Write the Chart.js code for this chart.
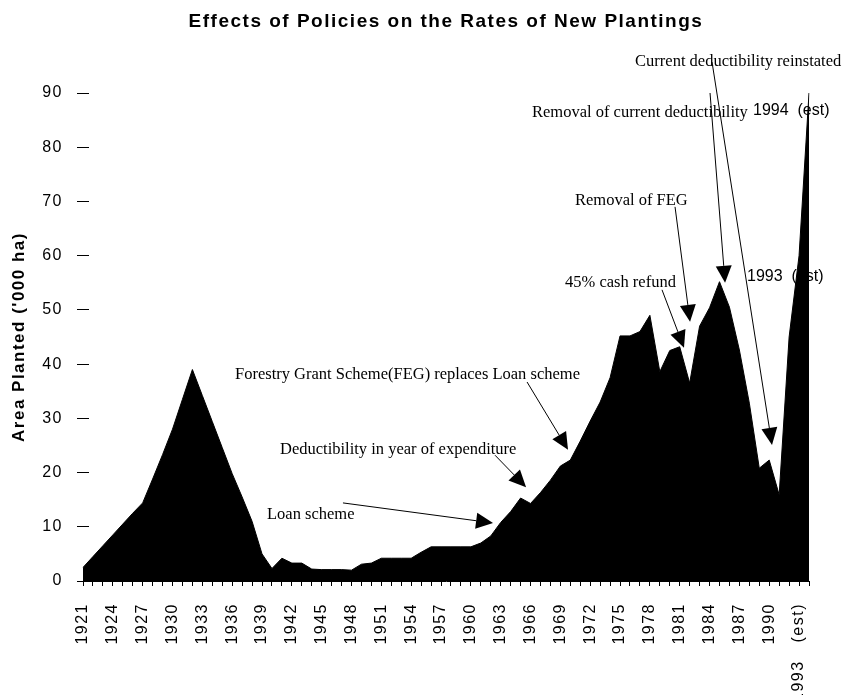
<!DOCTYPE html>
<html>
<head>
<meta charset="utf-8">
<title>Effects of Policies on the Rates of New Plantings</title>
<script src="https://cdn.jsdelivr.net/npm/chart.js@4.4.1/dist/chart.umd.min.js"></script>
<style>
  html, body { margin: 0; padding: 0; background: #fff; }
  canvas { display: block; }
</style>
</head>
<body>
<canvas id="plantings" width="846" height="695"></canvas>
<script>
var years = [
    '1921', '1922', '1923', '1924', '1925', '1926', '1927', '1928', '1929', '1930',
    '1931', '1932', '1933', '1934', '1935', '1936', '1937', '1938', '1939', '1940',
    '1941', '1942', '1943', '1944', '1945', '1946', '1947', '1948', '1949', '1950',
    '1951', '1952', '1953', '1954', '1955', '1956', '1957', '1958', '1959', '1960',
    '1961', '1962', '1963', '1964', '1965', '1966', '1967', '1968', '1969', '1970',
    '1971', '1972', '1973', '1974', '1975', '1976', '1977', '1978', '1979', '1980',
    '1981', '1982', '1983', '1984', '1985', '1986', '1987', '1988', '1989', '1990',
    '1991', '1992', '1993', '1994'
];

// area planted, thousand hectares
var areaPlanted = [
    2.5, 4.5, 6.5, 8.5, 10.5, 12.5, 14.4, 18.8, 23.3, 28,
    33.5, 39, 34.2, 29.4, 24.6, 19.8, 15.5, 11, 5, 2.3,
    4.2, 3.3, 3.3, 2.2, 2.1, 2.1, 2.1, 2.0, 3.1, 3.3,
    4.2, 4.2, 4.2, 4.2, 5.3, 6.3, 6.3, 6.3, 6.3, 6.3,
    7.0, 8.3, 10.8, 12.8, 15.3, 14.3, 16.3, 18.6, 21.2, 22.3,
    25.8, 29.5, 33, 37.5, 45.2, 45.2, 46, 49, 38.6, 42.5,
    43.2, 36.5, 47, 50.4, 55.2, 50.5, 42.6, 32.8, 20.8, 22.3,
    15.9, 45, 60, 90
];

// every third year gets a label
var tickLabels = [
    '1921', '1924', '1927', '1930', '1933', '1936', '1939', '1942', '1945',
    '1948', '1951', '1954', '1957', '1960', '1963', '1966', '1969', '1972',
    '1975', '1978', '1981', '1984', '1987', '1990', '1993   (est)'
];

var yTicks = [0, 10, 20, 30, 40, 50, 60, 70, 80, 90];

// estimate markers next to the last two points, [year, value] of the text baseline start
var estNotes = [
    { text: '1993  (est)', at: [1987.77, 55.4] },
    { text: '1994  (est)', at: [1988.37, 85.9] }
];

// policy changes: text baseline start, arrow tail and arrow tip, all as [year, value]
var policyNotes = [
    { text: 'Loan scheme', at: [1939.5, 11.4], from: [1947.14, 14.4], to: [1962.23, 10.7] },
    { text: 'Deductibility in year of expenditure', at: [1940.81, 23.4], from: [1962.43, 23.2], to: [1965.55, 17.3] },
    { text: 'Forestry Grant Scheme(FEG) replaces Loan scheme', at: [1936.28, 37.3], from: [1965.65, 36.7], to: [1969.77, 24.2] },
    { text: '45% cash refund', at: [1969.47, 54.2], from: [1979.22, 53.7], to: [1981.43, 43.0] },
    { text: 'Removal of FEG', at: [1970.47, 69.4], from: [1980.53, 69.0], to: [1982.04, 47.8] },
    { text: 'Removal of current deductibility', at: [1966.15, 85.6], from: [1984.05, 90.0], to: [1985.56, 55.0] },
    { text: 'Current deductibility reinstated', at: [1976.51, 95.0], from: [1984.25, 95.7], to: [1990.28, 25.1] }
];

var firstYear = 1921;
var sans = '"Liberation Sans", Arial, Helvetica, sans-serif';
var serif = '"Liberation Serif", "Times New Roman", serif';

Chart.defaults.font.family = sans;
Chart.defaults.color = '#000';

function toPixel(chart, pt) {
    return {
        x: chart.scales.x.getPixelForValue(pt[0] - firstYear),
        y: chart.scales.y.getPixelForValue(pt[1])
    };
}

function drawArrow(ctx, a, b) {
    var ang = Math.atan2(b.y - a.y, b.x - a.x);
    var len = 17, half = 8;
    var bx = b.x - len * Math.cos(ang);
    var by = b.y - len * Math.sin(ang);
    ctx.beginPath();
    ctx.moveTo(a.x, a.y);
    ctx.lineTo(bx, by);
    ctx.stroke();
    ctx.beginPath();
    ctx.moveTo(b.x, b.y);
    ctx.lineTo(bx + half * Math.sin(ang), by - half * Math.cos(ang));
    ctx.lineTo(bx - half * Math.sin(ang), by + half * Math.cos(ang));
    ctx.closePath();
    ctx.fill();
}

// the original type is set loosely, so give chart text a little tracking
var tracking = {
    id: 'tracking',
    beforeLayout: function (chart) { chart.ctx.letterSpacing = '1.5px'; },
    beforeDraw: function (chart) { chart.ctx.letterSpacing = '1.5px'; }
};

var notes = {
    id: 'notes',
    beforeDatasetsDraw: function (chart) {
        var ctx = chart.ctx;
        var area = chart.chartArea;
        ctx.save();
        ctx.fillStyle = '#000';
        ctx.textBaseline = 'alphabetic';

        ctx.letterSpacing = '1.5px';
        ctx.font = 'bold 19px ' + sans;
        ctx.textAlign = 'center';
        ctx.fillText('Effects of Policies on the Rates of New Plantings', (area.left + area.right) / 2, 27);

        // the area fill runs over these labels
        ctx.letterSpacing = '0px';
        ctx.font = '16px ' + sans;
        ctx.textAlign = 'left';
        estNotes.forEach(function (n) {
            var p = toPixel(chart, n.at);
            ctx.fillText(n.text, p.x, p.y);
        });
        ctx.restore();
    },
    afterDatasetsDraw: function (chart) {
        var ctx = chart.ctx;
        var area = chart.chartArea;
        var yScale = chart.scales.y;
        ctx.save();
        ctx.letterSpacing = '0px';
        ctx.fillStyle = '#000';
        ctx.strokeStyle = '#000';
        ctx.lineWidth = 1;

        // y tick dashes cross the axis into the plot a little (same pixel snapping as the grid)
        ctx.beginPath();
        yTicks.forEach(function (v) {
            var y = Math.round(yScale.getPixelForValue(v) - 0.5) + 0.5;
            ctx.moveTo(area.left, y);
            ctx.lineTo(area.left + 6, y);
        });
        ctx.stroke();

        ctx.font = '16.5px ' + serif;
        ctx.textAlign = 'left';
        ctx.textBaseline = 'alphabetic';
        policyNotes.forEach(function (n) {
            var p = toPixel(chart, n.at);
            ctx.fillText(n.text, p.x, p.y);
            drawArrow(ctx, toPixel(chart, n.from), toPixel(chart, n.to));
        });
        ctx.restore();
    }
};

var ctx = document.getElementById('plantings').getContext('2d');

var chartData = {
    labels: years,
    datasets: [{
        label: 'Area Planted',
        data: areaPlanted,
        fill: 'origin',
        backgroundColor: '#000',
        borderColor: '#000',
        borderWidth: 1,
        pointRadius: 0,
        tension: 0
    }]
};

var options = {
    responsive: false,
    animation: false,
    layout: {
        padding: { top: 93, right: 37, bottom: 0, left: 0 }
    },
    plugins: {
        legend: { display: false },
        tooltip: { enabled: false }
    },
    scales: {
        x: {
            type: 'category',
            offset: false,
            border: { display: true, color: '#000', width: 1 },
            grid: { display: true, drawOnChartArea: false, drawTicks: true, tickLength: 5, color: '#000' },
            ticks: {
                autoSkip: false,
                maxRotation: 90,
                minRotation: 90,
                padding: 17,
                font: { size: 16 },
                callback: function (value, index) {
                    return index % 3 === 0 ? tickLabels[index / 3] : '';
                }
            },
            afterFit: function (scale) { scale.height = 114; }
        },
        y: {
            min: 0,
            max: 90,
            border: { display: false },
            grid: { display: true, drawOnChartArea: false, drawTicks: true, tickLength: 6, color: '#000' },
            afterBuildTicks: function (scale) {
                scale.ticks = yTicks.map(function (v) { return { value: v }; });
            },
            ticks: {
                padding: 14,
                font: { size: 16 }
            },
            title: {
                display: true,
                text: "Area Planted ('000 ha)",
                font: { size: 17, weight: 'bold' },
                padding: { top: 9, bottom: 0 }
            },
            afterFit: function (scale) { scale.width = 83; }
        }
    }
};

var myChart = new Chart(ctx, {
    type: 'line',
    data: chartData,
    options: options,
    plugins: [tracking, notes]
});
</script>
</body>
</html>
